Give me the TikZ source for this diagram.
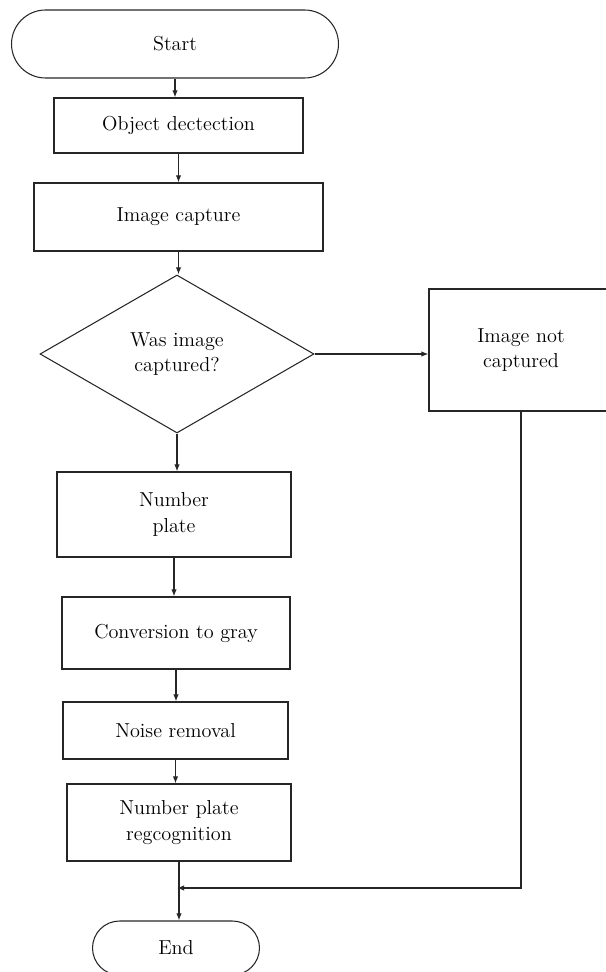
\documentclass[tikz,border=0pt]{standalone}
\usetikzlibrary{shapes.geometric,shapes.misc,arrows.meta}
\begin{document}
\begin{tikzpicture}[line width=0.6pt, draw=black!85, font=\fontsize{11.5}{14.5}\selectfont,
  box/.style={draw, rectangle, align=center, inner sep=2pt},
  terminal/.style={draw, rounded rectangle, inner sep=2pt},
  decision/.style={draw, diamond, align=center, inner sep=1pt},
  arrow/.style={-{Latex[length=4pt,width=3pt]}}]

\useasboundingbox (0,0) rectangle (12.1,-19.44);

\node [terminal, minimum width=6.68cm, minimum height=1.36cm] (start) at (3.50,-0.88) {Start};
\node [box, minimum width=4.98cm, minimum height=1.10cm] (detect) at (3.57,-2.51) {Object dectection};
\node [box, minimum width=5.78cm, minimum height=1.36cm] (capture) at (3.57,-4.34) {Image capture};
\node [decision, minimum width=5.48cm, minimum height=3.16cm] (check) at (3.54,-7.08) {Was image\\captured?};
\node [box, minimum width=3.68cm, minimum height=2.44cm] (nocap) at (10.42,-7.00) {Image not\\captured};
\node [box, minimum width=4.68cm, minimum height=1.70cm] (plate) at (3.48,-10.29) {Number\\plate};
\node [box, minimum width=4.56cm, minimum height=1.44cm] (gray) at (3.52,-12.66) {Conversion to gray};
\node [box, minimum width=4.50cm, minimum height=1.14cm] (noise) at (3.51,-14.61) {Noise removal};
\node [box, minimum width=4.48cm, minimum height=1.54cm] (recog) at (3.58,-16.45) {Number plate\\regcognition};
\node [terminal, minimum width=3.48cm, minimum height=1.08cm] (end) at (3.52,-18.96) {End};

\coordinate (join) at (3.54,-17.76);

\foreach \a/\b in {start/detect, detect/capture, capture/check, check/plate, plate/gray, gray/noise, noise/recog}
\draw [arrow] (\a.south) -- (\a.south |- \b.north);

\draw [arrow] (check.east) -- (check.east -| nocap.west);
\draw [arrow] (recog.south) -- (recog.south |- end.north);
\draw [arrow] (nocap.south) |- (join);
\end{tikzpicture}
\end{document}
